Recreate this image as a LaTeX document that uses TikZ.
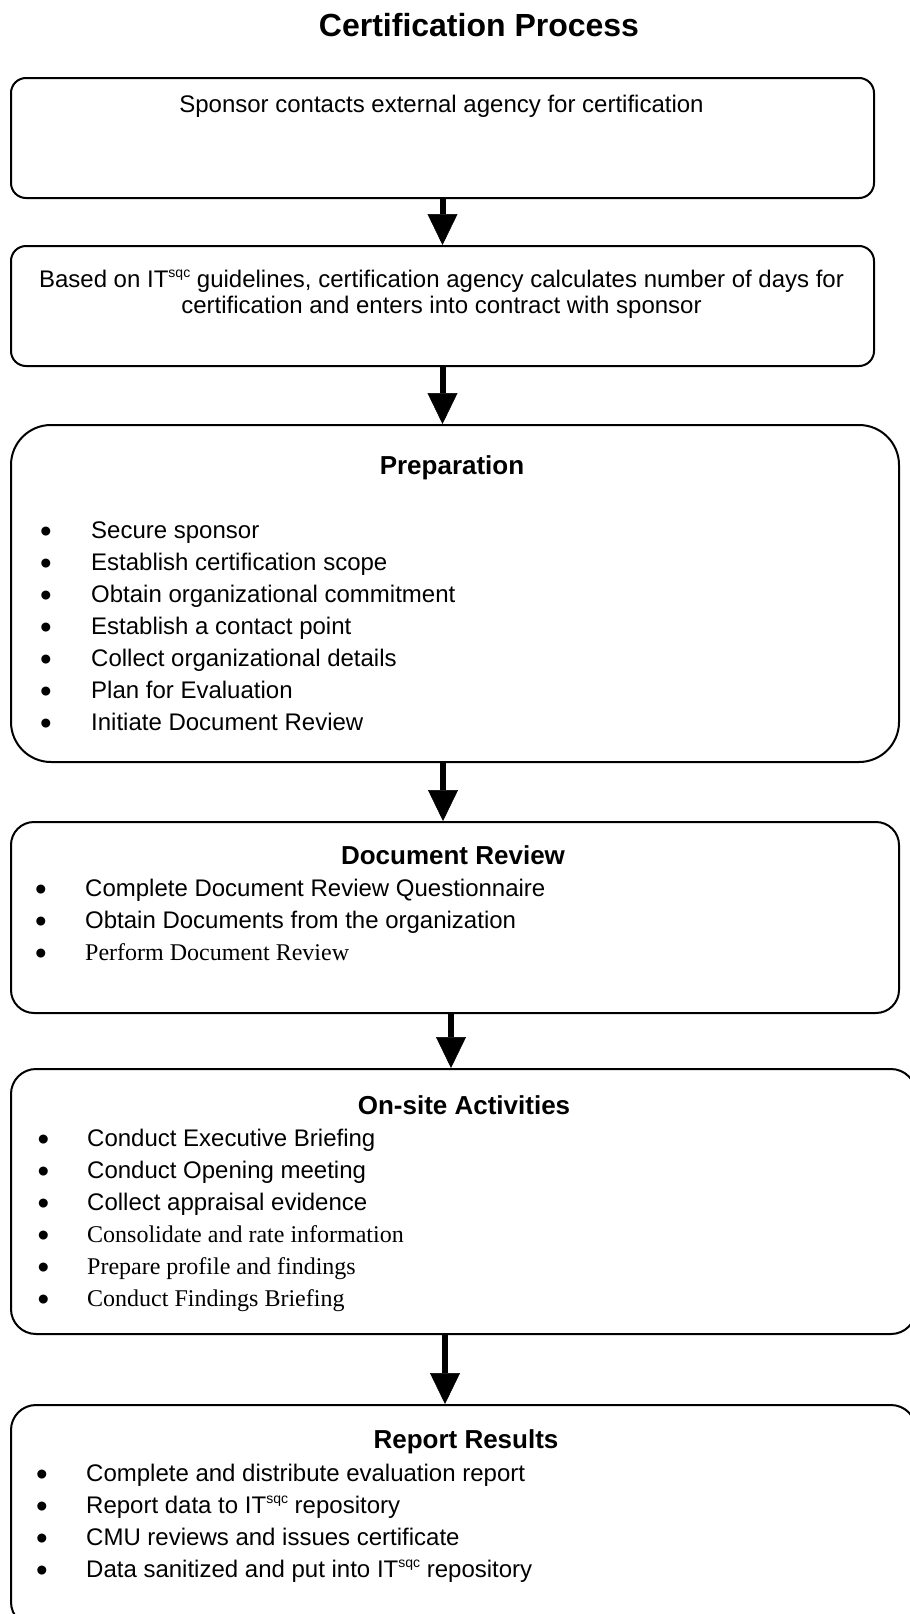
\documentclass[tikz,border=0pt]{standalone}
\usepackage{fontspec}
\setmainfont{Liberation Sans}
\newfontfamily\timesf{Liberation Serif}
\usetikzlibrary{arrows.meta}
\newcommand{\sqcsup}{\raisebox{9.5pt}{\fontsize{14}{14}\selectfont sqc}}
\begin{document}
\begin{tikzpicture}[x=1pt,y=-1pt,
  box/.style={draw=black, line width=2pt, rectangle, anchor=north west, inner sep=0pt},
  txt/.style={font=\fontsize{24}{28}\selectfont, inner sep=0pt, anchor=base west},
  ctxt/.style={font=\fontsize{24}{28}\selectfont, inner sep=0pt, anchor=base},
  bul/.style={font=\fontsize{33}{36}\selectfont, inner sep=0pt, anchor=base},
  hdr/.style={font=\fontsize{26}{30}\selectfont\bfseries, inner sep=0pt, anchor=base},
  arr/.style={line width=6pt, -{Triangle[width=30pt,length=31pt,line width=0.5pt]}}
]
\useasboundingbox (0,0) rectangle (910,1614);
\clip (0,0) rectangle (910,1614);

\node[font=\fontsize{32}{36}\selectfont\bfseries, inner sep=0pt, anchor=base] (title) at (479,36) {Certification Process};

% boxes
\node[box, minimum width=863pt, minimum height=120pt, rounded corners=15pt] (b1) at (10,77) {};
\node[box, minimum width=863pt, minimum height=120pt, rounded corners=15pt] (b2) at (10,245) {};
\node[box, minimum width=888pt, minimum height=337pt, rounded corners=40pt] (b3) at (10,424) {};
\node[box, minimum width=888pt, minimum height=191pt, rounded corners=23pt] (b4) at (10,821) {};
\node[box, minimum width=905pt, minimum height=265pt, rounded corners=25pt] (b5) at (10,1068) {};
\node[box, minimum width=905pt, minimum height=222pt, rounded corners=25pt] (b6) at (10,1404) {};

% arrows
\draw[arr] (b1.south) -- (b2.north);
\draw[arr] (b2.south) -- (b2.south |- b3.north);
\draw[arr] ([xshift=-12pt]b3.south) -- ([xshift=-12pt]b4.north);
\draw[arr] ([xshift=-4pt]b4.south) -- ([xshift=-4pt]b4.south |- b5.north);
\draw[arr] ([xshift=-18.5pt]b5.south) -- ([xshift=-18.5pt]b6.north);

% box 1
\node[ctxt] (t1) at (441.5,112) {Sponsor contacts external agency for certification};
% box 2
\node[ctxt] (t2a) at (441.5,287) {Based on IT\sqcsup{} guidelines, certification agency calculates number of days for};
\node[ctxt] (t2b) at (441.5,313) {certification and enters into contract with sponsor};

% box 3
\node[hdr] (h3) at (452,474) {Preparation};
\foreach \i/\t in {0/Secure sponsor,1/Establish certification scope,2/Obtain organizational commitment,3/Establish a contact point,4/Collect organizational details,5/Plan for Evaluation,6/Initiate Document Review}{
  \node[bul] (p3b\i) at (46,542+32*\i) {•};
  \node[txt] (p3t\i) at (91,538+32*\i) {\t};
}

% box 4
\node[hdr] (h4) at (453,864) {Document Review};
\node[bul] (p4b0) at (41,900) {•};
\node[txt] (p4t0) at (85,896) {Complete Document Review Questionnaire};
\node[bul] (p4b1) at (41,932) {•};
\node[txt] (p4t1) at (85,928) {Obtain Documents from the organization};
\node[bul] (p4b2) at (41,964) {•};
\node[txt] (p4t2) at (85,960) {\timesf Perform Document Review};

% box 5
\node[hdr] (h5) at (464,1114) {On-site Activities};
\foreach \i/\t in {0/Conduct Executive Briefing,1/Conduct Opening meeting,2/Collect appraisal evidence}{
  \node[bul] (p5b\i) at (43.5,1150+32*\i) {•};
  \node[txt] (p5t\i) at (87,1146+32*\i) {\t};
}
\foreach \i/\t in {3/Consolidate and rate information,4/Prepare profile and findings,5/Conduct Findings Briefing}{
  \node[bul] (p5b\i) at (43.5,1150+32*\i) {•};
  \node[txt] (p5t\i) at (87,1146+32*\i) {\timesf \t};
}

% box 6
\node[hdr] (h6) at (466,1448) {Report Results};
\node[bul] (p6b0) at (42,1485) {•};
\node[txt] (p6t0) at (86,1481) {Complete and distribute evaluation report};
\node[bul] (p6b1) at (42,1517) {•};
\node[txt] (p6t1) at (86,1513) {Report data to IT\sqcsup{} repository};
\node[bul] (p6b2) at (42,1549) {•};
\node[txt] (p6t2) at (86,1545) {CMU reviews and issues certificate};
\node[bul] (p6b3) at (42,1581) {•};
\node[txt] (p6t3) at (86,1577) {Data sanitized and put into IT\sqcsup{} repository};
\end{tikzpicture}
\end{document}
